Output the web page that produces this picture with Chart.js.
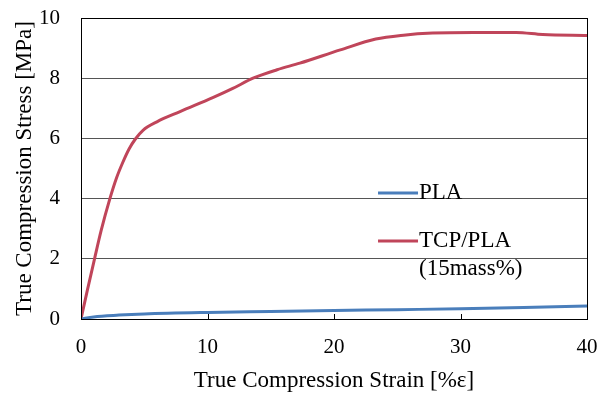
<!DOCTYPE html>
<html>
<head>
<meta charset="utf-8">
<script src="https://cdn.jsdelivr.net/npm/chart.js@4"></script>
<style>
  html, body { margin: 0; padding: 0; background: #fff; }
  #wrap { width: 607px; height: 396px; position: relative; }
</style>
</head>
<body>
<div id="wrap"><canvas id="c"></canvas></div>
<script>
// ---- Data ----
const tcpStrain = [0, 0.5, 1.07, 1.6, 2.25, 2.82, 3.3, 3.8, 4.3, 4.9, 6.0, 7.83, 10.46, 12.0, 13.6, 15.5, 17.3, 20.5, 23.3, 25.5, 27.8, 31, 34.4, 36.5, 40];
const tcpStress = [0, 0.95, 2.0, 2.95, 3.95, 4.7, 5.2, 5.65, 5.98, 6.27, 6.55, 6.89, 7.36, 7.66, 8.0, 8.28, 8.5, 8.94, 9.3, 9.43, 9.5, 9.52, 9.52, 9.45, 9.42];
const plaStrain = [0, 1, 3, 5, 10, 15, 20, 25, 30, 35, 40];
const plaStress = [0, 0.07, 0.13, 0.17, 0.22, 0.25, 0.28, 0.31, 0.34, 0.38, 0.43];
const seriesNames = ["PLA", "TCP/PLA"];
const legendLines = [["PLA"], ["TCP/PLA", "(15mass%)"]];
const xTicks = [0, 10, 20, 30, 40];
const yTicks = [0, 2, 4, 6, 8, 10];
const xTitle = "True Compression Strain [%\u03b5]";
const yTitle = "True Compression Stress [MPa]";

const FONT = "'Liberation Serif', 'Times New Roman', serif";
const BLUE = "#4a7ebb";
const RED = "#c0455a";

const toPts = (xs, ys) => xs.map((x, i) => ({ x: x, y: ys[i] }));

const framePlugin = {
  id: 'frame',
  afterDraw(chart) {
    const { ctx, chartArea: a, scales } = chart;
    ctx.save();
    ctx.strokeStyle = '#000';
    ctx.lineWidth = 1;
    xTicks.forEach(v => {
      const px = Math.round(scales.x.getPixelForValue(v)) + 0.5;
      ctx.beginPath();
      ctx.moveTo(px, a.bottom);
      ctx.lineTo(px, a.bottom - 5);
      ctx.stroke();
    });
    ctx.strokeRect(Math.round(a.left) + 0.5, Math.round(a.top) + 0.5,
                   Math.round(a.right - a.left), Math.round(a.bottom - a.top));
    // legend
    const lx = a.left + (a.right - a.left) * 0.587;
    const rows = [a.top + (a.bottom - a.top) * 0.581, a.top + (a.bottom - a.top) * 0.741];
    ctx.font = "23px " + FONT;
    ctx.textBaseline = 'middle';
    ctx.textAlign = 'left';
    chart.data.datasets.forEach((ds, i) => {
      const y = rows[i];
      ctx.strokeStyle = ds.borderColor;
      ctx.lineWidth = 3;
      ctx.beginPath();
      ctx.moveTo(lx, y);
      ctx.lineTo(lx + 40, y);
      ctx.stroke();
      ctx.fillStyle = '#000';
      legendLines[i].forEach((t, k) => ctx.fillText(t, lx + 41, y + k * 28));
    });
    ctx.restore();
  }
};

new Chart(document.getElementById('c'), {
  type: 'line',
  data: {
    datasets: [
      { label: seriesNames[0], data: toPts(plaStrain, plaStress), borderColor: BLUE, borderWidth: 3,
        pointRadius: 0, cubicInterpolationMode: 'monotone', fill: false },
      { label: seriesNames[1], data: toPts(tcpStrain, tcpStress), borderColor: RED, borderWidth: 3,
        pointRadius: 0, cubicInterpolationMode: 'monotone', fill: false }
    ]
  },
  options: {
    responsive: true,
    maintainAspectRatio: false,
    animation: false,
    layout: { padding: { top: 18, right: 20, left: 0, bottom: 0 } },
    plugins: { legend: { display: false }, tooltip: { enabled: false } },
    scales: {
      x: {
        type: 'linear', min: 0, max: 40,
        afterBuildTicks: s => { s.ticks = xTicks.map(v => ({ value: v })); },
        afterFit: s => { s.height = 77; s.paddingLeft = 0; s.paddingRight = 0; },
        grid: { display: false, drawTicks: false },
        border: { display: false },
        ticks: { color: '#000', padding: 16, maxRotation: 0, font: { family: FONT, size: 21 } },
        title: { display: true, text: xTitle, color: '#000', padding: { top: 0, bottom: 1 },
                 font: { family: FONT, size: 23 } }
      },
      y: {
        type: 'linear', min: 0, max: 10,
        afterBuildTicks: s => { s.ticks = yTicks.map(v => ({ value: v })); },
        afterFit: s => { s.width = 81; s.paddingTop = 0; s.paddingBottom = 0; },
        grid: { color: '#555', lineWidth: 1, drawTicks: false },
        border: { display: false },
        ticks: { color: '#000', padding: 21, font: { family: FONT, size: 21 } },
        title: { display: true, text: yTitle, color: '#000', padding: { top: 11, bottom: 0 },
                 font: { family: FONT, size: 23 } }
      }
    }
  },
  plugins: [framePlugin]
});
</script>
</body>
</html>
